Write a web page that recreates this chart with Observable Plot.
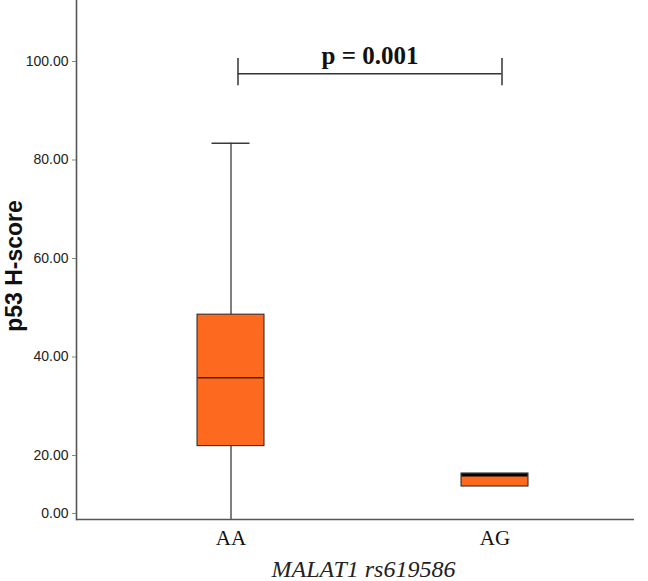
<!DOCTYPE html>
<html>
<head>
<meta charset="utf-8">
<script src="https://cdn.jsdelivr.net/npm/d3@7"></script>
<script src="https://cdn.jsdelivr.net/npm/@observablehq/plot@0.6"></script>
<style>
  html, body { margin: 0; padding: 0; background: #fff; }
  #chart svg { display: block; }
</style>
</head>
<body>
<div id="chart"></div>
<script>
// ---- data ----
const groups = ["AA", "AG"];
const whiskerLow = [-1.2, null];
const q1 = [21.9, 9.3];
const median = [35.8, 13.3];
const q3 = [48.6, 13.8];
const whiskerHigh = [83.4, null];

const yTicks = [0, 20, 40, 60, 80, 100];
const yTickLabels = ["0.00", "20.00", "40.00", "60.00", "80.00", "100.00"];

const pLabel = "p = 0.001";
const bracketLevel = 97.5;
const bracketTickLow = 95.1;
const bracketTickHigh = 100.6;

const yTitle = "p53 H-score";
const xTitle = "MALAT1 rs619586";

// ---- build table ----
const rows = groups.map((g, i) => ({
  group: g, lo: whiskerLow[i], q1: q1[i], median: median[i], q3: q3[i], hi: whiskerHigh[i]
}));
const withWhiskers = rows.filter(d => d.hi != null);
const bracketEnds = [groups[0], groups[groups.length - 1]];

const yMin = -1.2, yMax = 112.4;
const sans = "'Liberation Sans', Arial, sans-serif";
const serif = "'Liberation Serif', 'Times New Roman', serif";
const boxFill = "#fd6a1f";
const halfBand = 33.5;

const chart = Plot.plot({
  width: 648,
  height: 581,
  marginLeft: 76,
  marginRight: 14,
  marginTop: 0,
  marginBottom: 62,
  style: { fontFamily: sans, background: "#fff" },
  x: {
    type: "band",
    domain: groups,
    paddingInner: 0.747,
    paddingOuter: 0.4265,
    align: 0.531,
    axis: null
  },
  y: {
    type: "linear",
    domain: [yMin, 0, 20, 100, yMax],
    range: [519, 513, 455, 61, 0],
    axis: null
  },
  marks: [
    // whiskers
    Plot.ruleX(withWhiskers, { x: "group", y1: "q3", y2: "hi", stroke: "#3a3a3a", strokeWidth: 1.3 }),
    Plot.ruleX(withWhiskers, { x: "group", y1: "lo", y2: "q1", stroke: "#3a3a3a", strokeWidth: 1.3 }),
    Plot.tickY(withWhiskers, { x: "group", y: "hi", insetLeft: 14.5, insetRight: 14.5, stroke: "#3a3a3a", strokeWidth: 1.5 }),
    // boxes
    Plot.barY(rows, { x: "group", y1: "q1", y2: "q3", fill: boxFill, stroke: "#222", strokeWidth: 1 }),
    // medians
    Plot.tickY(rows, {
      x: "group", y: "median",
      stroke: d => d.group === "AG" ? "#000" : "#4a2410",
      strokeWidth: d => d.group === "AG" ? 3 : 1.4,
      insetLeft: 0.5, insetRight: 0.5
    }),
    // axes lines
    Plot.ruleY([yMin], { stroke: "#555", strokeWidth: 1.6 }),
    Plot.frame({ anchor: "left", stroke: "#555", strokeWidth: 1.6 }),
    // y axis ticks + labels
    Plot.axisY(yTicks, {
      tickSize: 4,
      tickPadding: 4,
      stroke: "#888",
      fontSize: 14,
      fill: "#222",
      tickFormat: d => yTickLabels[yTicks.indexOf(d)],
      label: null
    }),
    // x axis labels
    Plot.axisX({
      tickSize: 0,
      tickPadding: 11,
      fontSize: 21,
      fontFamily: serif,
      fill: "#111",
      label: null
    }),
    // titles
    Plot.text([yTitle], {
      frameAnchor: "left", textAnchor: "middle", rotate: -90, dx: -62, dy: 6,
      fontSize: 23, fontWeight: "bold", fontFamily: sans, fill: "#111"
    }),
    Plot.text([xTitle], {
      frameAnchor: "bottom", textAnchor: "middle", dx: 8, dy: 57,
      fontSize: 24, fontStyle: "italic", fontFamily: serif, fill: "#222"
    }),
    // significance bracket
    Plot.ruleY([bracketLevel], {
      x1: () => bracketEnds[0], x2: () => bracketEnds[1],
      insetLeft: halfBand, insetRight: halfBand, dx: 7, stroke: "#333", strokeWidth: 1.5
    }),
    Plot.ruleX(bracketEnds, { x: d => d, y1: bracketTickLow, y2: bracketTickHigh, dx: 7, stroke: "#333", strokeWidth: 1.5 }),
    Plot.text([pLabel], {
      x: () => bracketEnds[0], y: bracketLevel, dx: 139, dy: -18,
      fontSize: 25, fontWeight: "bold", fontFamily: serif, fill: "#111"
    })
  ]
});

document.getElementById("chart").appendChild(chart);
</script>
</body>
</html>
